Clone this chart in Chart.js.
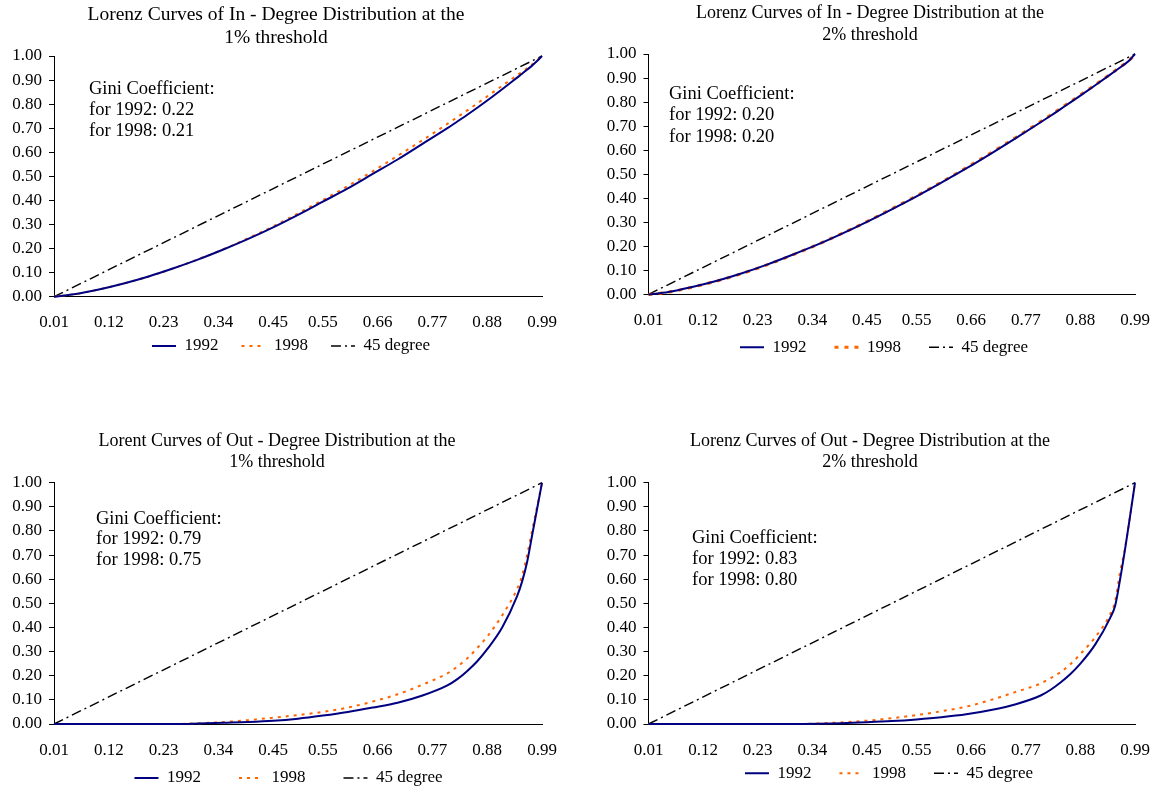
<!DOCTYPE html>
<html>
<head>
<meta charset="utf-8">
<title>Lorenz curves of in- and out-degree distribution</title>
<script src="https://cdn.jsdelivr.net/npm/chart.js@4.4.1/dist/chart.umd.min.js"></script>
<style>
  html, body { margin: 0; padding: 0; background: #fff; width: 1152px; height: 791px; overflow: hidden; position: relative; }
  canvas { position: absolute; }
</style>
</head>
<body>
<canvas id="inOne"></canvas>
<canvas id="inTwo"></canvas>
<canvas id="outOne"></canvas>
<canvas id="outTwo"></canvas>
<script>
const shareX = [0.01, 0.05, 0.10, 0.15, 0.20, 0.25, 0.30, 0.35, 0.40, 0.45, 0.50, 0.55, 0.60,
                0.65, 0.70, 0.75, 0.80, 0.82, 0.84, 0.86, 0.88, 0.91, 0.94, 0.95, 0.96, 0.97, 0.98, 0.99];

// In-degree, 1% threshold
const inOne1992 = [0, 0.01, 0.03, 0.055, 0.084, 0.118, 0.155, 0.196, 0.24, 0.288, 0.34, 0.395, 0.45,
                   0.51, 0.57, 0.635, 0.70, 0.728, 0.756, 0.785, 0.815, 0.862, 0.91, 0.926, 0.943, 0.96, 0.979, 1.0];
const inOne1998 = [0, 0.01, 0.03, 0.055, 0.084, 0.118, 0.156, 0.197, 0.243, 0.292, 0.346, 0.402, 0.46,
                   0.521, 0.585, 0.65, 0.718, 0.746, 0.774, 0.803, 0.832, 0.876, 0.92, 0.934, 0.949, 0.965, 0.982, 1.0];

// In-degree, 2% threshold
const inTwo1992 = [0, 0.01, 0.032, 0.058, 0.089, 0.125, 0.165, 0.207, 0.253, 0.302, 0.354, 0.408, 0.465,
                   0.524, 0.586, 0.65, 0.716, 0.743, 0.771, 0.799, 0.827, 0.87, 0.914, 0.929, 0.944, 0.959, 0.976, 1.0];
const inTwo1998 = [0, 0.009, 0.031, 0.057, 0.088, 0.124, 0.164, 0.207, 0.254, 0.303, 0.356, 0.41, 0.467,
                   0.527, 0.589, 0.653, 0.719, 0.746, 0.774, 0.802, 0.83, 0.872, 0.916, 0.931, 0.946, 0.961, 0.977, 1.0];

// Out-degree, 1% threshold
const outOne1992 = [0, 0, 0, 0, 0, 0, 0.002, 0.005, 0.008, 0.013, 0.022, 0.035, 0.05,
                    0.068, 0.088, 0.118, 0.16, 0.186, 0.22, 0.26, 0.31, 0.40, 0.53, 0.59, 0.67, 0.78, 0.89, 1.0];
const outOne1998 = [0, 0, 0, 0, 0, 0, 0.003, 0.008, 0.016, 0.026, 0.037, 0.05, 0.068,
                    0.093, 0.123, 0.163, 0.21, 0.238, 0.272, 0.315, 0.362, 0.45, 0.56, 0.615, 0.70, 0.80, 0.90, 1.0];

// Out-degree, 2% threshold
const outTwo1992 = [0, 0, 0, 0, 0, 0, 0, 0.001, 0.003, 0.007, 0.012, 0.019, 0.028,
                    0.04, 0.058, 0.082, 0.118, 0.142, 0.172, 0.207, 0.25, 0.33, 0.44, 0.49, 0.60, 0.725, 0.86, 1.0];
const outTwo1998 = [0, 0, 0, 0, 0, 0, 0, 0.002, 0.007, 0.014, 0.024, 0.037, 0.053,
                    0.072, 0.10, 0.133, 0.168, 0.19, 0.215, 0.248, 0.29, 0.36, 0.455, 0.51, 0.63, 0.73, 0.86, 1.0];

// line of equality
const diagX = [0.01, 0.99];
const diagY = [0, 1];

const xTickLabels = ['0.01', '0.12', '0.23', '0.34', '0.45', '0.55', '0.66', '0.77', '0.88', '0.99'];
const yTickLabels = ['0.00', '0.10', '0.20', '0.30', '0.40', '0.50', '0.60', '0.70', '0.80', '0.90', '1.00'];
const seriesNames = ['1992', '1998', '45 degree'];

const FONT = "'Liberation Serif', 'Times New Roman', serif";
Chart.defaults.font.family = FONT;
Chart.defaults.color = '#000';

// two-line heading, Gini note, and vertical placement of the legend row
const notesPlugin = {
  id: 'notes',
  afterLayout(chart, args, opts) {
    const lg = chart.legend;
    if (!lg) return;
    const dy = opts.legendY - (lg.top + lg.options.labels.padding + 8.5);
    lg.top += dy;
    lg.bottom += dy;
  },
  afterDraw(chart, args, opts) {
    const ctx = chart.ctx;
    ctx.save();
    ctx.fillStyle = '#000';
    ctx.textBaseline = 'middle';
    ctx.textAlign = 'center';
    ctx.font = opts.titleSize + 'px ' + FONT;
    opts.title.forEach((t, i) => ctx.fillText(t, opts.titleX, opts.titleY[i]));
    ctx.textAlign = 'left';
    ctx.font = opts.giniSize + 'px ' + FONT;
    opts.gini.forEach((t, i) => ctx.fillText(t, opts.giniX, opts.giniY[i]));
    ctx.restore();
  }
};

function pairs(xs, ys) {
  return xs.map((x, i) => ({ x: x, y: ys[i] }));
}

// legend items keep the dash pattern of their dataset
function lineLabels(chart) {
  return Chart.defaults.plugins.legend.labels.generateLabels(chart).map(item => {
    const ds = chart.data.datasets[item.datasetIndex];
    item.strokeStyle = ds.borderColor;
    item.lineWidth = ds.borderWidth;
    item.lineDash = ds.borderDash || [];
    return item;
  });
}

function buildChart(id, box, title, gini, first, second, dash, dashWidth) {
  const el = document.getElementById(id);
  const cx = Math.floor(box.plot.l - 44);
  const yWidth = box.plot.l - cx;
  const legendRight = 2 * box.legendX - cx;
  const w = Math.round(legendRight - cx);
  const rightGap = cx + w - box.plot.r;
  const xHeight = 38;
  const legendH = 17 + box.legendPad + 10;
  const h = Math.round(box.plot.b - box.y + xHeight + legendH);

  el.width = w;
  el.height = h;
  el.style.left = cx + 'px';
  el.style.top = box.y + 'px';

  new Chart(el, {
    type: 'line',
    data: {
      datasets: [
        { label: seriesNames[0], data: pairs(shareX, first), borderColor: '#000080', borderWidth: 2,
          pointRadius: 0, cubicInterpolationMode: 'monotone', clip: false },
        { label: seriesNames[1], data: pairs(shareX, second), borderColor: '#ff6600', borderWidth: dashWidth,
          borderDash: dash, pointRadius: 0, cubicInterpolationMode: 'monotone', clip: false },
        { label: seriesNames[2], data: pairs(diagX, diagY), borderColor: '#000000', borderWidth: 1.4,
          borderDash: [10, 4, 2, 4], pointRadius: 0, clip: false }
      ]
    },
    options: {
      responsive: false,
      animation: false,
      events: [],
      layout: { padding: { top: box.plot.t - box.y, left: 0, right: 0, bottom: h - (box.plot.b - box.y) - xHeight - legendH } },
      scales: {
        x: {
          type: 'linear', min: 0.01, max: 0.99,
          afterBuildTicks: ax => { ax.ticks = xTickLabels.map(v => ({ value: Number(v) })); },
          afterFit: ax => { ax.height = xHeight; },
          // hidden tick marks give the label offset without widening the side padding
          grid: { display: false, drawTicks: true, tickLength: 16 },
          border: { color: '#000', width: 1 },
          ticks: { autoSkip: false, maxRotation: 0, padding: 0, color: '#000', font: { size: 17 },
                   callback: (v, i) => xTickLabels[i] }
        },
        y: {
          min: 0, max: 1,
          afterBuildTicks: ax => { ax.ticks = yTickLabels.map(v => ({ value: Number(v) })); },
          afterFit: ax => { ax.width = yWidth; },
          grid: { drawOnChartArea: false, drawTicks: true, tickLength: 5, color: '#000' },
          border: { color: '#000', width: 1 },
          ticks: { padding: 7, color: '#000', font: { size: 17 }, callback: (v, i) => yTickLabels[i] }
        },
        // empty right-hand box: keeps the plot narrower than the legend row
        gap: {
          type: 'linear', position: 'right', display: true,
          afterFit: ax => { ax.width = rightGap; },
          grid: { display: false, drawTicks: false },
          border: { display: false },
          ticks: { display: false }
        }
      },
      plugins: {
        title: { display: false },
        tooltip: { enabled: false },
        legend: {
          position: 'bottom',
          labels: { usePointStyle: true, pointStyle: 'line', pointStyleWidth: 24,
                    padding: box.legendPad, color: '#000', font: { size: 17 },
                    generateLabels: lineLabels }
        },
        notes: {
          legendY: box.legendY - box.y,
          title: title, titleSize: box.titleSize, titleX: box.titleX - cx,
          titleY: box.titleY.map(v => v - box.y),
          gini: gini, giniSize: 18.5, giniX: box.giniX - cx,
          giniY: box.giniY.map(v => v - box.y)
        }
      }
    },
    plugins: [notesPlugin]
  });
}

buildChart('inOne',
  { y: 0, plot: { l: 54, t: 56, r: 542, b: 296.7 }, legendY: 346, legendPad: 23, legendX: 291,
    titleX: 276, titleY: [15, 38.3], titleSize: 19.5, giniX: 89, giniY: [89.3, 110, 131] },
  ['Lorenz Curves of In - Degree Distribution at the', '1% threshold'],
  ['Gini Coefficient:', 'for 1992: 0.22', 'for 1998: 0.21'],
  inOne1992, inOne1998, [3, 5], 2);

buildChart('inTwo',
  { y: 0, plot: { l: 648.5, t: 54, r: 1135, b: 294.4 }, legendY: 347.3, legendPad: 28, legendX: 884,
    titleX: 870, titleY: [13.5, 35], titleSize: 18, giniX: 669, giniY: [94.5, 115.5, 137] },
  ['Lorenz Curves of In - Degree Distribution at the', '2% threshold'],
  ['Gini Coefficient:', 'for 1992: 0.20', 'for 1998: 0.20'],
  inTwo1992, inTwo1998, [4, 6], 3);

buildChart('outOne',
  { y: 400, plot: { l: 54, t: 482.7, r: 542, b: 724 }, legendY: 778, legendPad: 38, legendX: 288.5,
    titleX: 277, titleY: [441.7, 462.3], titleSize: 18, giniX: 96, giniY: [519, 539.5, 560.3] },
  ['Lorent Curves of Out - Degree Distribution at the', '1% threshold'],
  ['Gini Coefficient:', 'for 1992: 0.79', 'for 1998: 0.75'],
  outOne1992, outOne1998, [3, 5], 2);

buildChart('outTwo',
  { y: 400, plot: { l: 648.5, t: 482.7, r: 1135, b: 724 }, legendY: 773.3, legendPad: 28, legendX: 889,
    titleX: 870, titleY: [441.7, 462.3], titleSize: 18, giniX: 692, giniY: [538, 559, 580] },
  ['Lorenz Curves of Out - Degree Distribution at the', '2% threshold'],
  ['Gini Coefficient:', 'for 1992: 0.83', 'for 1998: 0.80'],
  outTwo1992, outTwo1998, [3, 5], 2);
</script>
</body>
</html>
